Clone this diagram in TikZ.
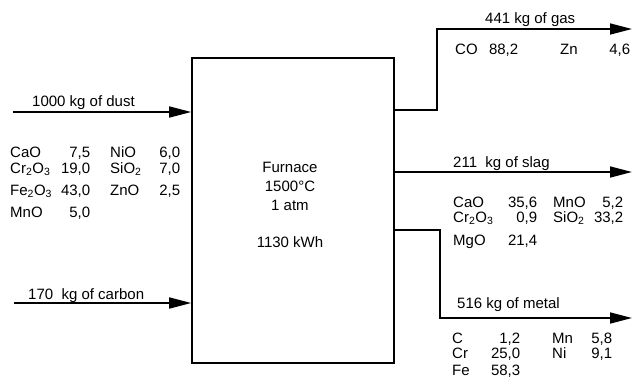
\documentclass[tikz,border=0pt]{standalone}
\usepackage{fontspec}
\setmainfont{Liberation Sans}
\usepackage{array}
\usetikzlibrary{arrows.meta, calc}

\begin{document}
\begin{tikzpicture}[x=1pt, y=-1pt, >={Triangle[length=22pt, width=11pt]},
    flow/.style={->, line width=1.6pt},
    txt/.style={font=\fontsize{15}{16}\selectfont, inner sep=0pt, anchor=base west},
    furnacebox/.style={draw, line width=1.6pt, minimum width=202pt, minimum height=305pt}]
    \useasboundingbox (0,0) rectangle (635,384);

    % furnace
    \node[furnacebox] (furnace) at (293,210.5) {};
    \node[txt, anchor=base, align=center] (ftext) at (290,247)
        {Furnace\\[3pt] 1500°C\\[3pt] 1 atm\\[21pt] 1130 kWh};

    % inputs
    \coordinate (dustin) at (13,112);
    \coordinate (carbonin) at (14,303);
    \draw[flow] (dustin) -- (dustin -| furnace.west);
    \draw[flow] (carbonin) -- (carbonin -| furnace.west);
    \node[txt] (dustlbl) at (32,106) {1000 kg of dust};
    \node[txt] (carbonlbl) at (28,299) {170~ kg of carbon};
    \node[txt] (dustcomp) at (10,157) {\begin{tabular}[t]{@{}w{l}{40pt}@{}w{r}{40pt}@{\hspace{20pt}}w{l}{35pt}@{}w{r}{35pt}@{}}
        CaO & 7,5 & NiO & 6,0\\
        Cr\textsubscript{2}O\textsubscript{3} & 19,0 & SiO\textsubscript{2} & 7,0\\[6pt]
        Fe\textsubscript{2}O\textsubscript{3} & 43,0 & ZnO & 2,5\\[6pt]
        MnO & 5,0 & & \\
    \end{tabular}};

    % outputs
    \coordinate (gasbend) at (437,110);
    \coordinate (gasout) at (632,29);
    \coordinate (slagout) at (632,172);
    \coordinate (metalbend) at (440,230);
    \coordinate (metalout) at (632,318);
    \draw[flow] (gasbend -| furnace.east) -- (gasbend) |- (gasout);
    \draw[flow] (slagout -| furnace.east) -- (slagout);
    \draw[flow] (metalbend -| furnace.east) -- (metalbend) |- (metalout);
    \node[txt] (gaslbl) at (485,23) {441 kg of gas};
    \node[txt] (slaglbl) at (453,167) {211~ kg of slag};
    \node[txt] (metallbl) at (457,308) {516 kg of metal};
    \node[txt] (gascomp) at (455,54) {\begin{tabular}[t]{@{}w{l}{30pt}@{}w{r}{33pt}@{\hspace{42pt}}w{l}{35pt}@{}w{r}{35pt}@{}}
        CO & 88,2 & Zn & 4,6\\
    \end{tabular}};
    \node[txt] (slagcomp) at (453,207) {\begin{tabular}[t]{@{}w{l}{40pt}@{}w{r}{44pt}@{\hspace{16pt}}w{l}{35pt}@{}w{r}{35pt}@{}}
        CaO & 35,6 & MnO & 5,2\\[-1pt]
        Cr\textsubscript{2}O\textsubscript{3} & 0,9 & SiO\textsubscript{2} & 33,2\\[7pt]
        MgO & 21,4 & & \\
    \end{tabular}};
    \node[txt] (metalcomp) at (452,343) {\begin{tabular}[t]{@{}w{l}{34pt}@{}w{r}{34pt}@{\hspace{32pt}}w{l}{30pt}@{}w{r}{30pt}@{}}
        C & 1,2 & Mn & 5,8\\[-1pt]
        Cr & 25,0 & Ni & 9,1\\[1pt]
        Fe & 58,3 & & \\
    \end{tabular}};
\end{tikzpicture}
\end{document}
